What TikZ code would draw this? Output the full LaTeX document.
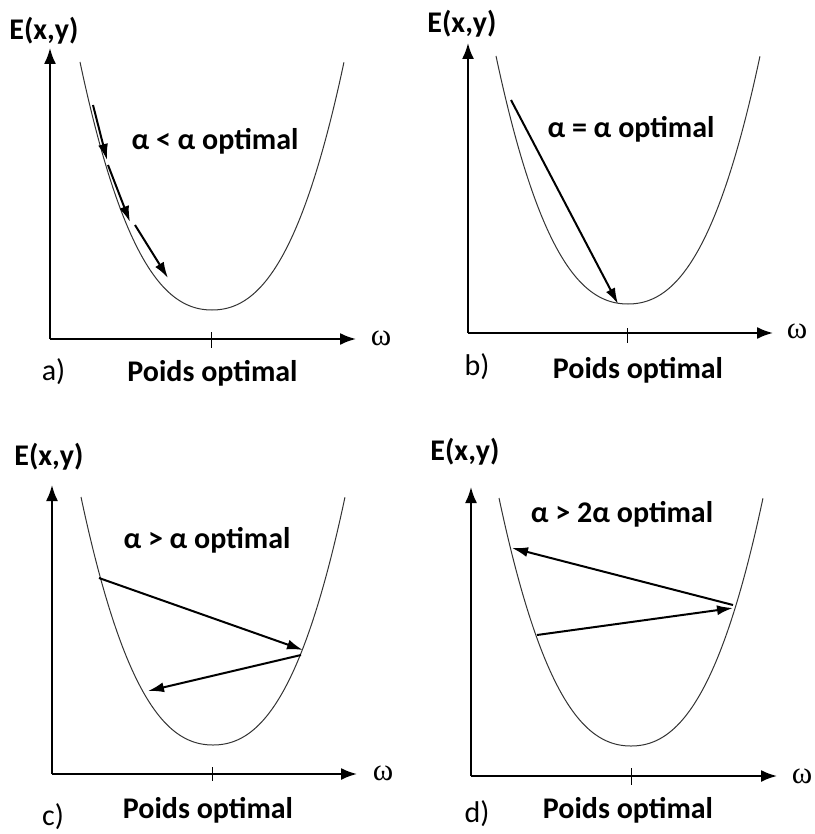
\documentclass[tikz,border=0pt]{standalone}
\usepackage{fontspec}
\setmainfont{Carlito}
\newfontfamily\omegafont{Liberation Serif}
\usetikzlibrary{arrows.meta}
\tikzset{
  axis/.style={line width=2pt, -{Latex[length=16pt,width=12pt]}},
  curve/.style={draw=black!80, line width=1pt},
  tickmark/.style={line width=1pt},
  stepline/.style={line width=2pt, -{Latex[length=16pt,width=10pt]}},
  lbl/.style={anchor=base, inner sep=0pt, font=\fontsize{30}{32}\selectfont\bfseries},
  plain/.style={anchor=base, inner sep=0pt, font=\fontsize{30}{32}\selectfont},
  om/.style={anchor=base, inner sep=0pt, font=\fontsize{31}{32}\selectfont\omegafont},
}
\newcommand\bowl[2]{\draw[curve] plot[domain=-1:1, samples=121, smooth] ({#1+132*\x},{#2-248*(0.5*\x*\x+0.5*abs(\x*\x*\x))});}
\begin{document}
\begin{tikzpicture}[x=1pt,y=-1pt]
\useasboundingbox (0,0) rectangle (814,834);
% ---------- panel a ----------
\coordinate (oa) at (50,339);
\coordinate (ya) at (50,48);
\coordinate (xa) at (356,339);
\draw[axis] (oa) -- (ya);
\draw[axis] (oa) -- (xa);
\coordinate (ta1) at (211,332); \coordinate (ta2) at (211,348);
\draw[tickmark] (ta1) -- (ta2);
\bowl{212}{310}
\coordinate (a1s) at (93,105);  \coordinate (a1e) at (107,160);
\coordinate (a2s) at (108,165); \coordinate (a2e) at (130,222);
\coordinate (a3s) at (135,225); \coordinate (a3e) at (168,278);
\draw[stepline] (a1s) -- (a1e);
\draw[stepline] (a2s) -- (a2e);
\draw[stepline] (a3s) -- (a3e);
\node[lbl] (Ea) at (44,40) {E(x,y)};
\node[lbl] (La) at (215,150) {α < α optimal};
\node[om] (wa) at (381,345) {ω};
\node[plain] (na) at (53.5,380) {a)};
\node[lbl] (Pa) at (212.5,381) {Poids optimal};
% ---------- panel b ----------
\coordinate (ob) at (468,333);
\coordinate (yb) at (468,43);
\coordinate (xb) at (773,333);
\draw[axis] (ob) -- (yb);
\draw[axis] (ob) -- (xb);
\coordinate (tb1) at (627,328); \coordinate (tb2) at (627,343);
\draw[tickmark] (tb1) -- (tb2);
\bowl{628}{304}
\coordinate (b1s) at (511,100); \coordinate (b1e) at (618,304);
\draw[stepline] (b1s) -- (b1e);
\node[lbl] (Eb) at (462,33) {E(x,y)};
\node[lbl] (Lb) at (631,138) {α = α optimal};
\node[om] (wb) at (797,338) {ω};
\node[plain] (nb) at (477,375) {b)};
\node[lbl] (Pb) at (638,378) {Poids optimal};
% ---------- panel c ----------
\coordinate (oc) at (52,774);
\coordinate (yc) at (52,485);
\coordinate (xc) at (357,774);
\draw[axis] (oc) -- (yc);
\draw[axis] (oc) -- (xc);
\coordinate (tc1) at (212,767); \coordinate (tc2) at (212,781);
\draw[tickmark] (tc1) -- (tc2);
\bowl{213}{745}
\coordinate (c1s) at (99,578);  \coordinate (c1e) at (303,650);
\coordinate (c2s) at (301,655); \coordinate (c2e) at (148,691);
\draw[stepline] (c1s) -- (c1e);
\draw[stepline] (c2s) -- (c2e);
\node[lbl] (Ec) at (49,465) {E(x,y)};
\node[lbl] (Lc) at (207,548) {α > α optimal};
\node[om] (wc) at (383,780) {ω};
\node[plain] (nc) at (53,825) {c)};
\node[lbl] (Pc) at (208,818) {Poids optimal};
% ---------- panel d ----------
\coordinate (od) at (471,776);
\coordinate (yd) at (471,487);
\coordinate (xd) at (777,776);
\draw[axis] (od) -- (yd);
\draw[axis] (od) -- (xd);
\coordinate (td1) at (631,768); \coordinate (td2) at (631,785);
\draw[tickmark] (td1) -- (td2);
\bowl{631}{746}
\coordinate (d1s) at (537,635); \coordinate (d1e) at (733,608);
\coordinate (d2s) at (733,605); \coordinate (d2e) at (512,548);
\draw[stepline] (d1s) -- (d1e);
\draw[stepline] (d2s) -- (d2e);
\node[lbl] (Ed) at (465,460) {E(x,y)};
\node[lbl] (Ld) at (622,522) {α > 2α optimal};
\node[om] (wd) at (802,783) {ω};
\node[plain] (nd) at (477,822) {d)};
\node[lbl] (Pd) at (628,818) {Poids optimal};
\end{tikzpicture}
\end{document}
